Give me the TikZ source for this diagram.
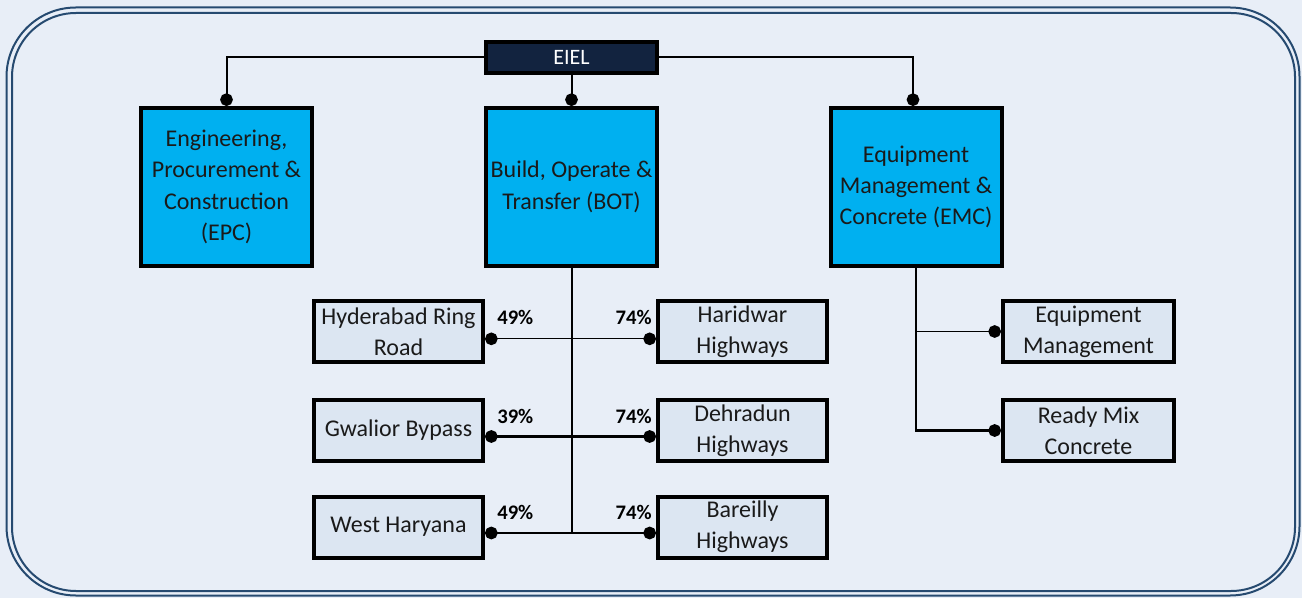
\documentclass[tikz,border=0pt]{standalone}
\usepackage{fontspec}
\setmainfont{Carlito}
\usetikzlibrary{arrows.meta}
\definecolor{bgc}{HTML}{E8EEF7}
\definecolor{framec}{HTML}{264A70}
\definecolor{navyc}{HTML}{12233F}
\definecolor{cyanc}{HTML}{00B0F0}
\definecolor{smallc}{HTML}{DCE6F2}
\definecolor{textc}{HTML}{1A1A1A}
\begin{document}
\begin{tikzpicture}[x=0.75pt,y=-0.75pt,
  bigbox/.style={draw=black, line width=3pt, fill=cyanc, minimum width=128.25pt, minimum height=118.5pt, align=center, inner sep=0pt, text=textc, font=\fontsize{18}{23.5}\selectfont},
  smallbox/.style={draw=black, line width=3pt, fill=smallc, minimum width=126.75pt, minimum height=45.75pt, align=center, inner sep=0pt, text=textc, font=\fontsize{18}{23.5}\selectfont},
  topbox/.style={draw=black, line width=3pt, fill=navyc, minimum width=128.25pt, minimum height=23.25pt, inner sep=0pt, text=white, font=\fontsize{16.5}{18}\selectfont},
  pct/.style={inner sep=0pt, text=black, font=\bfseries\fontsize{15.5}{17}\selectfont},
  conn/.style={draw=black, line width=1.5pt},
  thinconn/.style={draw=black, line width=1pt},
  thickconn/.style={draw=black, line width=2pt},
  dotend/.style={-{Circle[length=9.5pt]}},
  dotboth/.style={{Circle[length=9.5pt]}-{Circle[length=9.5pt]}}
]
\fill[bgc] (0,0) rectangle (1302,598);
\useasboundingbox (0,0) rectangle (1302,598);
\draw[framec, line width=1.5pt, rounded corners=52pt] (6.5,7.5) rectangle (1299.5,595.5);
\draw[framec, line width=1.5pt, rounded corners=48pt] (12,13) rectangle (1295,591);

% top level
\node[topbox] (EIEL) at (571.5,57.5) {EIEL};
\node[bigbox] (EPC) at (226.5,187) {Engineering,\\Procurement \&\\Construction\\(EPC)};
\node[bigbox] (BOT) at (571.5,187) {Build, Operate \&\\Transfer (BOT)};
\node[bigbox] (EMC) at (916,187) {Equipment\\Management \&\\Concrete (EMC)};

% BOT children
\node[smallbox] (HYD) at (398.5,331.5) {Hyderabad Ring\\Road};
\node[smallbox] (GWA) at (398.5,430.5) {Gwalior Bypass};
\node[smallbox] (WH) at (398.5,527) {West Haryana};
\node[smallbox] (HAR) at (742.5,331.5) {Haridwar\\Highways};
\node[smallbox] (DEH) at (742.5,430.5) {Dehradun\\Highways};
\node[smallbox] (BAR) at (742.5,527) {Bareilly\\Highways};

% EMC children
\node[smallbox, minimum width=128.25pt] (EM) at (1088.5,331.5) {Equipment\\Management};
\node[smallbox, minimum width=128.25pt] (RMC) at (1088.5,430.5) {Ready Mix\\Concrete};

% top connectors
\draw[conn, dotend] (EIEL.west) -| (EPC.north);
\draw[conn, dotend] (EIEL.east) -| ([xshift=-2.25pt]EMC.north);
\draw[conn, dotend] (EIEL.south) -- (BOT.north);

% BOT trunk
\coordinate (botend) at ([yshift=-4.5pt]BOT.south |- WH.east);
\draw[conn] (BOT.south) -- (botend);

% BOT rows
\draw[thinconn, dotboth] ([yshift=-5.5pt]HYD.east) -- ([yshift=-5.5pt]HAR.west);
\draw[thickconn, dotboth] ([yshift=-4.5pt]GWA.east) -- ([yshift=-4.5pt]DEH.west);
\draw[thickconn, dotboth] ([yshift=-4.5pt]WH.east) -- ([yshift=-4.5pt]BAR.west);

% percentages
\node[pct, anchor=west] (p1l) at ([xshift=9pt,yshift=-13.5pt]HYD.north east) {49\%};
\node[pct, anchor=east] (p1r) at ([xshift=-3pt,yshift=-13.5pt]HAR.north west) {74\%};
\node[pct, anchor=west] (p2l) at ([xshift=9pt,yshift=-13.5pt]GWA.north east) {39\%};
\node[pct, anchor=east] (p2r) at ([xshift=-3pt,yshift=-13.5pt]DEH.north west) {74\%};
\node[pct, anchor=west] (p3l) at ([xshift=9pt,yshift=-13.5pt]WH.north east) {49\%};
\node[pct, anchor=east] (p3r) at ([xshift=-3pt,yshift=-13.5pt]BAR.north west) {74\%};

% EMC connectors
\draw[thickconn, dotend] (EMC.south) |- (RMC.west);
\draw[thinconn, dotend] (EMC.south |- EM.west) -- (EM.west);
\end{tikzpicture}
\end{document}
